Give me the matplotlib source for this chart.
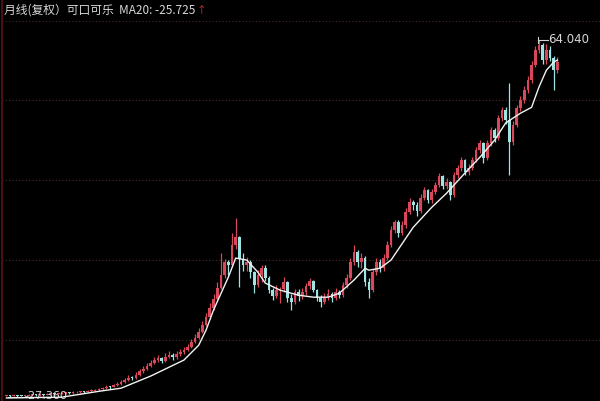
import numpy as np
import matplotlib
matplotlib.use('Agg')
from matplotlib import pyplot as plt

plt.rcParams['font.family'] = ['Noto Sans CJK SC', 'DejaVu Sans']

# monthly candles (forward-adjusted)
closes = [
    -27.0, -27.1, -26.9, -27.1, -27.2, -27.0, -26.9, -26.8, -26.9, -26.7,
    -26.8, -26.6, -26.6, -26.7, -26.5, -26.4, -26.3, -26.4, -26.2, -26.1,
    -26.0, -26.1, -25.8, -25.7, -25.5, -25.3, -25.1, -24.8, -24.9, -24.4,
    -24.1, -23.6, -23.0, -22.4, -22.6, -21.6, -20.8, -20.1, -19.3, -18.6,
    -18.0, -17.4, -18.1, -17.0, -16.5, -17.2, -16.3, -15.9, -15.4, -14.5,
    -13.4, -12.2, -10.6, -9.0, -7.0, -4.6, -2.2, 0.5, 4.0, 7.2,
    6.4, 11.5, 13.5, 8.0, 6.5, 7.2, 4.6, 1.3, 3.8, 5.6,
    3.1, 0.0, -1.5, 0.0, 0.3, 2.0, -2.0, -3.1, -0.5, -1.5,
    -0.5, 1.0, 2.3, 0.0, -2.0, -3.1, -1.8, -1.0, -2.0, -0.5,
    -1.3, 1.3, 3.1, 7.2, 9.7, 7.2, 8.2, 2.0, 0.0, 4.6,
    7.2, 5.6, 8.2, 11.5, 15.4, 17.4, 14.6, 16.6, 20.0, 22.5,
    21.8, 20.2, 23.6, 25.6, 23.0, 25.1, 26.9, 29.2, 26.6, 27.6,
    24.3, 29.4, 31.2, 33.3, 30.2, 31.2, 33.3, 35.8, 37.6, 33.8,
    37.6, 41.0, 38.9, 44.0, 46.1, 43.5, 38.0, 42.2, 46.6, 48.6,
    51.2, 53.8, 57.6, 61.4, 62.7, 58.9, 61.4, 59.4, 56.3, 58.4,
]
highs = [
    -26.8, -26.9, -26.7, -26.8, -27.0, -26.8, -26.7, -26.6, -26.6, -26.5,
    -26.5, -26.4, -26.3, -26.4, -26.3, -26.1, -26.0, -26.1, -25.9, -25.8,
    -25.7, -25.8, -25.5, -25.4, -25.2, -25.0, -24.7, -24.4, -24.5, -24.0,
    -23.6, -23.1, -22.4, -21.8, -21.9, -21.0, -20.2, -19.4, -18.7, -17.9,
    -17.2, -16.6, -17.0, -16.2, -15.7, -16.1, -15.6, -15.1, -14.6, -13.7,
    -12.6, -11.3, -9.6, -7.9, -5.8, -3.4, -0.9, 2.0, 9.5, 8.0,
    7.7, 14.6, 18.4, 13.8, 9.5, 8.6, 7.7, 5.0, 5.2, 6.4,
    6.4, 3.6, 0.6, 1.2, 0.8, 3.3, 2.4, -1.0, 0.2, 0.4,
    0.5, 1.9, 3.1, 2.6, 0.4, -1.3, -0.8, 0.3, -0.6, 0.5,
    0.1, 2.0, 4.1, 8.2, 11.5, 10.3, 9.5, 8.7, 3.0, 5.4,
    8.2, 8.0, 9.2, 12.5, 16.4, 18.0, 17.9, 17.6, 21.0, 23.5,
    23.2, 22.5, 24.6, 26.4, 26.0, 26.0, 27.8, 30.0, 29.5, 28.6,
    27.9, 30.2, 32.0, 34.0, 33.6, 32.4, 34.2, 36.6, 38.4, 37.8,
    38.4, 41.8, 41.6, 44.8, 47.0, 46.8, 53.0, 43.2, 47.4, 49.6,
    52.2, 54.8, 58.6, 62.4, 64.04, 63.2, 63.0, 62.6, 60.0, 59.6,
]
lows = [
    -27.2, -27.36, -27.2, -27.3, -27.3, -27.3, -27.1, -27.0, -27.1, -27.0,
    -27.0, -26.9, -26.8, -26.9, -26.8, -26.7, -26.6, -26.6, -26.5, -26.4,
    -26.3, -26.4, -26.2, -26.0, -25.9, -25.7, -25.5, -25.3, -25.2, -24.9,
    -24.6, -24.2, -23.8, -23.2, -23.1, -22.8, -21.9, -21.1, -20.4, -19.6,
    -18.9, -18.3, -18.7, -18.3, -17.4, -17.8, -17.5, -16.8, -16.3, -15.6,
    -14.8, -13.6, -12.4, -10.9, -9.2, -7.3, -5.0, -2.6, 0.2, 3.0,
    3.8, 6.0, 10.5, 0.8, 5.0, 4.8, 3.2, -0.8, 0.8, 2.0,
    2.4, -0.8, -2.6, -2.0, -3.3, -0.4, -3.0, -5.1, -3.6, -2.8,
    -2.3, -1.2, 0.2, -0.6, -2.7, -4.4, -3.6, -2.5, -3.0, -2.4,
    -2.1, -1.8, 0.6, 2.6, 6.5, 5.8, 5.6, 1.0, -2.0, -0.5,
    3.8, 4.6, 4.9, 7.6, 11.0, 14.6, 13.6, 14.0, 16.0, 19.5,
    20.4, 19.0, 19.8, 23.0, 22.2, 22.4, 24.6, 26.4, 25.8, 25.8,
    23.0, 23.8, 28.6, 30.6, 29.4, 29.6, 30.8, 32.8, 35.0, 32.5,
    33.2, 37.0, 38.0, 38.4, 43.4, 42.6, 29.4, 37.2, 41.8, 45.8,
    48.0, 50.4, 53.0, 57.0, 60.6, 57.8, 58.0, 58.6, 51.2, 55.6,
]
first_open = -27.2

# MA20 line (candle index, value)
ma_pos = [0, 15, 25, 31, 39, 48, 52, 54, 56, 60, 62, 65, 68, 70, 74, 79, 83, 87, 90,
          94, 97, 98, 101, 104, 110, 115, 119, 124, 128, 132, 135, 139, 142, 144,
          146, 148, 149]
ma_vals = [-27.6, -27.4, -25.9, -25.1, -22.0, -17.9, -14.1, -10.2, -5.1, 3.3, 8.2,
           7.7, 4.6, 1.8, 0.0, -1.3, -1.8, -1.8, -0.8, 2.6, 5.6, 5.1, 5.6, 7.7,
           16.1, 21.2, 24.8, 30.0, 34.0, 38.4, 42.8, 45.3, 46.8, 52.0, 56.3, 58.4,
           58.9]

grid_levels = [-12.8, 7.7, 28.2, 48.6, 68.9]
title = '月线(复权）可口可乐  MA20: -25.725'

up_color = '#d8475a'
down_color = '#9fe4e2'

closes = np.array(closes)
highs = np.array(highs)
lows = np.array(lows)
opens = np.r_[first_open, closes[:-1]]
idx = np.arange(len(closes))
up = closes >= opens

fig = plt.figure(figsize=(6, 4.01), dpi=100, facecolor='black')
ax = fig.add_axes([0.004, 0, 0.996, 1])
ax.set_facecolor('black')

for lvl in grid_levels:
    ax.axhline(lvl, color='#4a2c2c', lw=0.8, ls=(0, (1, 2)), zorder=0)

colors = np.where(up, up_color, down_color)
ax.vlines(idx, lows, highs, colors=colors, lw=0.9, zorder=2)
body_lo = np.minimum(opens, closes)
body_h = np.maximum(np.abs(closes - opens), 0.25)
ax.bar(idx, body_h, bottom=body_lo, width=0.72, color=colors, lw=0, zorder=3)

ax.plot(ma_pos, ma_vals, color='#f2f2f2', lw=1.0, zorder=4)

# max / min markers
imax = int(np.argmax(highs))
imin = int(np.argmin(lows))
ax.plot([imax - 0.3, imax + 2.4], [highs[imax]] * 2, color='#d0d0d0', lw=0.8)
ax.plot([imax - 0.3] * 2, [highs[imax] - 0.8, highs[imax] + 0.8], color='#d0d0d0', lw=0.8)
ax.text(imax + 2.6, highs[imax], '%.3f' % highs[imax], color='#d8d8d8',
        fontsize=8.5, va='center', ha='left', family='DejaVu Sans')
ax.plot([imin - 0.5, imin + 3.8], [lows[imin]] * 2, color='#d0d0d0', lw=0.8)
ax.text(imin + 3.9, lows[imin] + 0.3, '%.3f' % lows[imin], color='#d8d8d8',
        fontsize=8, va='center', ha='left', family='DejaVu Sans')

ax.set_xlim(-1.08, 160.5)
ax.set_ylim(-28.38, 74.28)
ax.set_xticks([])
ax.set_yticks([])
for s in ['top', 'right', 'bottom']:
    ax.spines[s].set_visible(False)
ax.spines['left'].set_color('#5a1414')
ax.spines['left'].set_linewidth(1.2)

t = fig.text(4 / 600, 1 - 10 / 401, title, color='#d8d8d8', fontsize=8.5,
             va='center', ha='left')
fig.canvas.draw()
bb = t.get_window_extent()
fig.text((bb.x1 + 1) / 600, 1 - 10 / 401, '↑', color='#e03030', fontsize=7,
         va='center', ha='left')

fig.savefig('out.png', dpi=100, facecolor='black')
